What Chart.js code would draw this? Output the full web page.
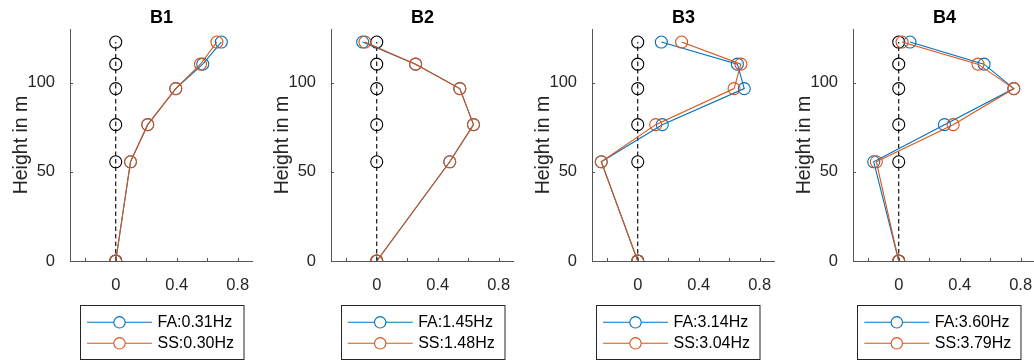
<!DOCTYPE html>
<html><head><meta charset="utf-8">
<script src="https://cdn.jsdelivr.net/npm/chart.js@4"></script>
<style>
html,body{margin:0;padding:0;background:#fff;width:1034px;height:360px;overflow:hidden;}
#wrap{position:relative;width:1034px;height:360px;overflow:hidden;background:#fff;}
canvas{position:absolute;top:0;}
</style></head><body><div id="wrap">
<canvas id="c0" width="260" height="360" style="left:0px"></canvas>
<canvas id="c1" width="260" height="360" style="left:261px"></canvas>
<canvas id="c2" width="260" height="360" style="left:522px"></canvas>
<canvas id="c3" width="260" height="360" style="left:783px"></canvas>
</div>
<script>
// ---- data ----
const heights = [0, 55.6, 76.4, 96.6, 110.3, 122.7];
const refValues = [0, 0, 0, 0, 0, 0];
const panelTitles = ['B1', 'B2', 'B3', 'B4'];
const faB1 = [0, 0.097, 0.21, 0.394, 0.571, 0.693];
const ssB1 = [0, 0.097, 0.21, 0.394, 0.556, 0.664];
const faB2 = [0, 0.479, 0.635, 0.545, 0.255, -0.092];
const ssB2 = [0, 0.479, 0.635, 0.545, 0.255, -0.077];
const faB3 = [0, -0.239, 0.161, 0.699, 0.654, 0.155];
const ssB3 = [0, -0.239, 0.118, 0.632, 0.677, 0.288];
const faB4 = [0, -0.164, 0.30, 0.755, 0.56, 0.074];
const ssB4 = [0, -0.147, 0.357, 0.755, 0.52, 0.022];
const faFreqs = ['0.31', '1.45', '3.14', '3.60'];
const ssFreqs = ['0.30', '1.48', '3.04', '3.79'];
const xTickValues = [-0.2, 0, 0.2, 0.4, 0.6, 0.8];
const xTickLabels = ['', '0', '', '0.4', '', '0.8'];
const yTickValues = [0, 50, 100];
const yTickLabels = ['0', '50', '100'];

const faSeries = [faB1, faB2, faB3, faB4];
const ssSeries = [ssB1, ssB2, ssB3, ssB4];
const legendLefts = [80, 79.7, 74, 74.3];

const BLUE = '#0072BD', ORANGE = '#D95319', AXIS = '#555555', TEXT = '#262626';
const FONT = '"Liberation Sans", Arial, Helvetica, sans-serif';

function pts(xs) { return xs.map((v, i) => ({x: v, y: heights[i]})); }

const decor = {
  id: 'decor',
  afterDraw(chart, args, opts) {
    const ctx = chart.ctx;
    const xs = chart.scales.x, ys = chart.scales.y;
    const a = chart.chartArea;
    ctx.save();
    // inward tick marks
    ctx.strokeStyle = AXIS; ctx.lineWidth = 1;
    ctx.beginPath();
    xTickValues.forEach(v => {
      const px = Math.round(xs.getPixelForValue(v)) + 0.5;
      ctx.moveTo(px, a.bottom); ctx.lineTo(px, a.bottom - 3);
    });
    yTickValues.forEach(v => {
      const py = Math.round(ys.getPixelForValue(v)) + 0.5;
      ctx.moveTo(a.left, py); ctx.lineTo(a.left + 3, py);
    });
    ctx.stroke();
    // title
    ctx.fillStyle = '#000';
    ctx.font = 'bold 18px ' + FONT;
    ctx.textAlign = 'center'; ctx.textBaseline = 'middle';
    ctx.fillText(opts.title, (a.left + a.right) / 2, 18.5);
    // y axis title
    ctx.save();
    ctx.translate(21.5, (a.top + a.bottom) / 2);
    ctx.rotate(-Math.PI / 2);
    ctx.fillStyle = TEXT;
    ctx.font = '19.5px ' + FONT;
    ctx.fillText('Height in m', 0, 0);
    ctx.restore();
    // legend
    const L = opts.legendLeft, T = 305, W = 163.5, H = 54;
    ctx.fillStyle = '#fff';
    ctx.fillRect(L, T, W, H);
    ctx.strokeStyle = '#262626'; ctx.lineWidth = 1;
    ctx.strokeRect(Math.round(L) + 0.5, T + 0.5, W, H);
    const rows = [[BLUE, 'FA:' + opts.fa + 'Hz', 322.3], [ORANGE, 'SS:' + opts.ss + 'Hz', 343.3]];
    rows.forEach(([col, txt, yy]) => {
      ctx.strokeStyle = col; ctx.lineWidth = 1.1;
      ctx.beginPath(); ctx.moveTo(L + 7, yy); ctx.lineTo(L + 72, yy); ctx.stroke();
      ctx.fillStyle = '#fff';
      ctx.beginPath(); ctx.arc(L + 39.5, yy, 5.7, 0, Math.PI * 2); ctx.fill(); ctx.stroke();
      ctx.fillStyle = '#000';
      ctx.font = '16px ' + FONT;
      ctx.textAlign = 'left'; ctx.textBaseline = 'middle';
      ctx.fillText(txt, L + 77.5, yy + 0.5);
    });
    ctx.restore();
  }
};

function makeChart(i) {
  new Chart(document.getElementById('c' + i), {
    type: 'scatter',
    data: {
      datasets: [
        {label: 'ref', data: pts(refValues), showLine: true, borderColor: '#000', borderWidth: 1.1,
         borderDash: [4.5, 3], pointRadius: 6, pointBorderColor: '#000', pointBorderWidth: 1.1,
         pointBackgroundColor: 'rgba(0,0,0,0)', order: 3},
        {label: 'FA:' + faFreqs[i] + 'Hz', data: pts(faSeries[i]), showLine: true, borderColor: BLUE, borderWidth: 1.1,
         pointRadius: 6, pointBorderColor: BLUE, pointBorderWidth: 1.1,
         pointBackgroundColor: 'rgba(0,0,0,0)', order: 2},
        {label: 'SS:' + ssFreqs[i] + 'Hz', data: pts(ssSeries[i]), showLine: true, borderColor: ORANGE, borderWidth: 1.1,
         pointRadius: 6, pointBorderColor: ORANGE, pointBorderWidth: 1.1,
         pointBackgroundColor: 'rgba(0,0,0,0)', order: 1}
      ]
    },
    options: {
      responsive: false, animation: false, devicePixelRatio: 1,
      layout: {padding: {left: 0, right: 5, top: 29, bottom: 69}},
      plugins: {
        legend: {display: false}, tooltip: {enabled: false}, title: {display: false},
        decor: {title: panelTitles[i], fa: faFreqs[i], ss: ssFreqs[i], legendLeft: legendLefts[i]}
      },
      scales: {
        x: {
          type: 'linear', min: -0.3, max: 0.9,
          afterBuildTicks: s => { s.ticks = xTickValues.map(v => ({value: v})); },
          afterFit: s => { s.height = 30; },
          grid: {display: false},
          border: {display: true, color: AXIS, width: 1},
          ticks: {autoSkip: false, maxRotation: 0, padding: 7, color: TEXT,
                  font: {family: FONT, size: 16.5},
                  callback: (v, idx) => xTickLabels[idx]}
        },
        y: {
          type: 'linear', min: 0, max: 130,
          afterBuildTicks: s => { s.ticks = yTickValues.map(v => ({value: v})); },
          afterFit: s => { s.width = 70; },
          grid: {display: false},
          border: {display: true, color: AXIS, width: 1},
          ticks: {autoSkip: false, padding: 7, color: TEXT,
                  font: {family: FONT, size: 16.5},
                  callback: (v, idx) => yTickLabels[idx]}
        }
      }
    },
    plugins: [decor]
  });
}
[0, 1, 2, 3].forEach(makeChart);
</script>
</body></html>
